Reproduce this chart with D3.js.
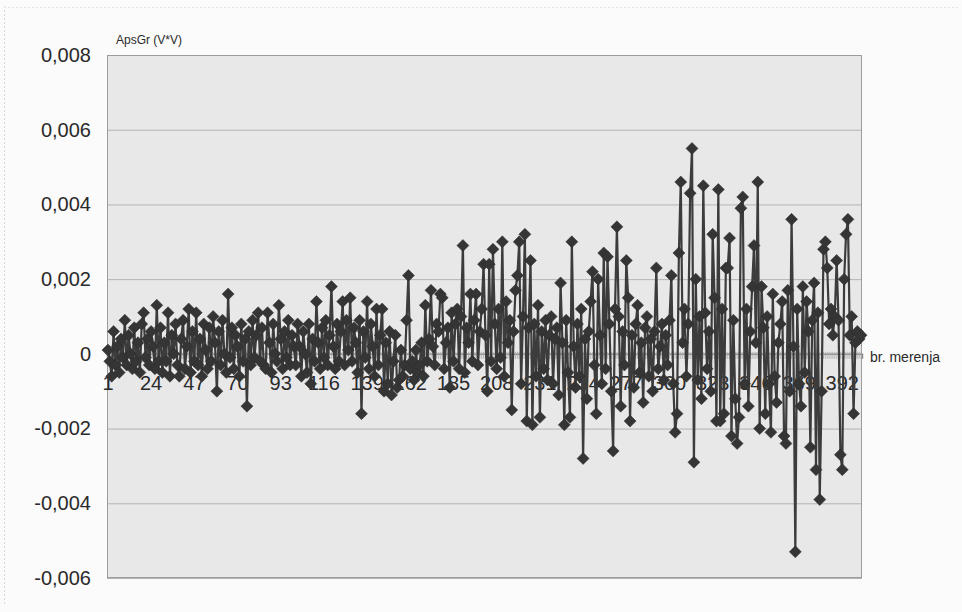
<!DOCTYPE html>
<html>
<head>
<meta charset="utf-8">
<script src="https://cdn.jsdelivr.net/npm/d3@7"></script>
<style>
  html, body { margin: 0; padding: 0; background: #fbfbfb; }
  svg { display: block; }
</style>
</head>
<body>
<svg id="chart" width="962" height="612"></svg>
<script>
const apsGr1 = [
  0.0001,-0.0002,-0.0006,0.0006,-0.0003,0.0002,-0.0005,0.0004,-0.0001,0.0009,
  -0.0003,0.0005,0.0000,-0.0004,0.0007,-0.0002,0.0003,-0.0005,0.0008,0.0011,
  -0.0001,0.0004,-0.0003,0.0006,0.0002,-0.0004,0.0013,-0.0002,0.0007,-0.0005,
  0.0003,-0.0002,0.0011,-0.0006,0.0005,0.0000,0.0008,-0.0003,-0.0006,0.0004,
  0.0009,-0.0004,0.0002,0.0012,-0.0005,0.0006,-0.0002,0.0011,-0.0003,0.0004,
  -0.0006,0.0008,0.0001,-0.0004,0.0007,-0.0002,0.0010,0.0003,-0.0010,0.0006,
  -0.0003,0.0009,0.0000,-0.0005,0.0016,-0.0001,0.0007,-0.0004,0.0005,0.0002,
  -0.0006,0.0008,-0.0002,0.0004,-0.0014,0.0006,-0.0003,0.0009,-0.0001,0.0005,
  0.0011,-0.0002,0.0007,-0.0003,-0.0004,0.0011,0.0003,-0.0005,0.0008,0.0000,
  -0.0002,0.0013,0.0004,-0.0004,0.0006,-0.0001,0.0009,-0.0003,0.0005,0.0002
];
const apsGr2 = [
  -0.0003,0.0008,0.0002,-0.0006,0.0006,0.0000,-0.0005,0.0008,-0.0008,0.0004,
  -0.0002,0.0014,0.0003,-0.0004,0.0007,-0.0001,0.0009,-0.0003,0.0005,0.0018,
  0.0002,-0.0004,0.0008,-0.0002,0.0006,0.0014,-0.0003,0.0009,0.0001,0.0015,
  -0.0002,0.0007,0.0003,-0.0005,0.0009,-0.0016,0.0006,-0.0001,0.0014,-0.0004,
  0.0008,0.0002,-0.0006,0.0012,-0.0003,0.0005,0.0012,-0.0010,0.0003,-0.0008,
  0.0006,-0.0011,-0.0002,0.0005,-0.0009,-0.0007,0.0001,-0.0006,-0.0003,0.0009,
  0.0021,-0.0004,-0.0002,-0.0007,0.0001,-0.0005,-0.0003,0.0003,-0.0006,0.0013,
  -0.0002,0.0004,0.0017,0.0002,-0.0003,0.0008,0.0006,0.0016,0.0015,-0.0004,
  0.0003,0.0007,-0.0009,0.0011,-0.0002,0.0008,0.0012,-0.0004,0.0010,0.0029,
  -0.0005,0.0007,0.0003,0.0016,-0.0002,0.0009,0.0016,-0.0003,0.0006,0.0012
];
const apsGr3 = [
  0.0024,0.0005,-0.0010,0.0024,-0.0002,0.0028,0.0008,-0.0004,0.0012,-0.0001,
  0.0030,-0.0006,0.0014,0.0003,0.0009,-0.0015,0.0006,0.0017,0.0021,0.0030,
  -0.0008,0.0010,0.0032,-0.0018,0.0007,0.0025,-0.0019,0.0008,-0.0006,0.0013,
  -0.0017,0.0006,-0.0004,0.0009,-0.0007,0.0005,0.0010,-0.0008,0.0004,0.0007,
  -0.0011,0.0019,0.0003,-0.0019,0.0009,-0.0005,-0.0017,0.0030,0.0002,-0.0009,
  0.0008,-0.0006,0.0012,-0.0028,0.0004,-0.0012,0.0006,0.0014,0.0022,-0.0003,
  -0.0016,0.0020,0.0005,-0.0008,0.0027,-0.0004,0.0026,0.0008,-0.0010,-0.0026,
  0.0012,0.0034,0.0010,-0.0014,0.0006,-0.0003,0.0025,0.0015,-0.0018,0.0005,
  -0.0009,0.0008,0.0013,-0.0005,0.0003,-0.0013,0.0007,0.0010,-0.0006,0.0004,
  -0.0010,0.0006,0.0023,-0.0004,0.0002,0.0008,-0.0007,0.0005,-0.0003,0.0009
];
const apsGr4 = [
  0.0021,-0.0008,-0.0021,-0.0016,0.0027,0.0046,0.0003,0.0012,-0.0006,0.0008,
  0.0043,0.0055,-0.0029,0.0020,-0.0007,0.0010,-0.0012,0.0045,0.0011,-0.0004,
  0.0006,-0.0010,0.0032,0.0015,-0.0018,0.0044,-0.0018,0.0012,-0.0016,0.0023,
  0.0023,0.0031,-0.0022,0.0009,-0.0012,-0.0024,-0.0017,0.0039,0.0042,-0.0008,
  0.0012,-0.0014,0.0006,0.0018,0.0029,0.0003,0.0046,-0.0020,0.0018,0.0007,
  -0.0016,0.0010,-0.0008,-0.0021,0.0016,-0.0006,-0.0013,0.0003,0.0008,0.0014,
  -0.0022,-0.0024,0.0017,-0.0010,0.0036,0.0002,-0.0053,0.0012,-0.0008,-0.0014,
  0.0018,-0.0005,0.0014,0.0006,-0.0025,0.0009,0.0019,-0.0031,0.0011,-0.0039,
  -0.0010,0.0028,0.0030,0.0023,0.0008,0.0012,0.0005,0.0010,0.0025,0.0009,
  -0.0027,-0.0031,0.0020,0.0032,0.0036,0.0005,0.0010,-0.0016,0.0003,0.0006,
  0.0004,0.0005
];
const values = apsGr1.concat(apsGr2, apsGr3, apsGr4);
const categories = values.map((d, i) => i + 1);
const xTickLabels = [1, 24, 47, 70, 93, 116, 139, 162, 185, 208, 231, 254, 277, 300, 323, 346, 369, 392];
const yTicks = [-0.006, -0.004, -0.002, 0, 0.002, 0.004, 0.006, 0.008];
const yTitle = "ApsGr (V*V)";
const xTitle = "br. merenja";

const svg = d3.select("#chart");
const plot = { left: 107, right: 862, top: 55, bottom: 578 };

// faint outer chart border (left and top edges of the scanned frame)
svg.append("line").attr("x1", 4.5).attr("x2", 4.5).attr("y1", 6).attr("y2", 606)
  .attr("stroke", "#d8d8d8").attr("stroke-dasharray", "2,2");
svg.append("line").attr("x1", 4).attr("x2", 958).attr("y1", 7.5).attr("y2", 7.5)
  .attr("stroke", "#e4e4e4").attr("stroke-dasharray", "2,2");

const x = d3.scaleBand()
  .domain(categories)
  .range([plot.left, plot.right])
  .paddingInner(0).paddingOuter(0);
const cx = d => x(d) + x.bandwidth() / 2;

const y = d3.scaleLinear()
  .domain([-0.006, 0.008])
  .range([plot.bottom, plot.top]);

const fmt = v => {
  if (v === 0) return "0";
  const s = d3.format(".3f")(Math.abs(v)).replace(".", ",");
  return (v < 0 ? "-" : "") + s;
};

// plot background
svg.append("rect")
  .attr("x", plot.left).attr("y", plot.top)
  .attr("width", plot.right - plot.left).attr("height", plot.bottom - plot.top)
  .attr("fill", "#e8e8e9");

// gridlines + y labels via axis
const yAxis = d3.axisLeft(y).tickValues(yTicks).tickSize(-(plot.right - plot.left)).tickFormat(fmt).tickPadding(16);
const gy = svg.append("g").attr("transform", `translate(${plot.left},0)`).call(yAxis);
gy.select(".domain").remove();
gy.selectAll(".tick line").attr("stroke", "#b4b4b6").attr("stroke-width", 1);
gy.selectAll(".tick text")
  .attr("font-family", "'Liberation Sans', Arial, sans-serif")
  .attr("font-size", 20).attr("fill", "#2a2a2a");

// plot border
svg.append("rect")
  .attr("x", plot.left + 0.5).attr("y", plot.top + 0.5)
  .attr("width", plot.right - plot.left - 1).attr("height", plot.bottom - plot.top - 1)
  .attr("fill", "none").attr("stroke", "#9c9c9c").attr("stroke-width", 1);

// x axis at zero with category ticks
const y0 = y(0);
const xAxis = d3.axisBottom(x).tickValues(categories).tickSize(5).tickFormat("");
const gx = svg.append("g").attr("transform", `translate(0,${y0})`).call(xAxis);
gx.select(".domain").attr("stroke", "#8e8e8e").attr("stroke-width", 1.5);
gx.selectAll(".tick line").attr("stroke", "#a8a8a8").attr("stroke-width", 0.8).attr("y1", -2);

// x tick labels (drawn beneath the series, as in the original)
svg.append("g").selectAll("text")
  .data(xTickLabels)
  .join("text")
  .attr("x", d => cx(d))
  .attr("y", y0 + 36)
  .attr("text-anchor", "middle")
  .attr("font-family", "'Liberation Sans', Arial, sans-serif")
  .attr("font-size", 20)
  .attr("fill", "#2a2a2a")
  .text(d => d);

// series line
const line = d3.line().x((d, i) => cx(categories[i])).y(d => y(d));
svg.append("path")
  .datum(values)
  .attr("d", line)
  .attr("fill", "none")
  .attr("stroke", "#3c3c3c")
  .attr("stroke-width", 2.2);

// diamond markers
const diamond = "M0,-6L6,0L0,6L-6,0Z";
svg.append("g").selectAll("path")
  .data(values)
  .join("path")
  .attr("d", diamond)
  .attr("transform", (d, i) => `translate(${cx(categories[i])},${y(d)})`)
  .attr("fill", "#353535")
  .attr("stroke", "#2c2c2c")
  .attr("stroke-width", 0.5);

// axis titles
svg.append("text")
  .attr("x", 116).attr("y", 44)
  .attr("font-family", "'Liberation Sans', Arial, sans-serif")
  .attr("font-size", 12).attr("fill", "#2a2a2a")
  .text(yTitle);
svg.append("text")
  .attr("x", 870).attr("y", 362)
  .attr("font-family", "'Liberation Sans', Arial, sans-serif")
  .attr("font-size", 14).attr("fill", "#2a2a2a")
  .text(xTitle);
</script>
</body>
</html>
